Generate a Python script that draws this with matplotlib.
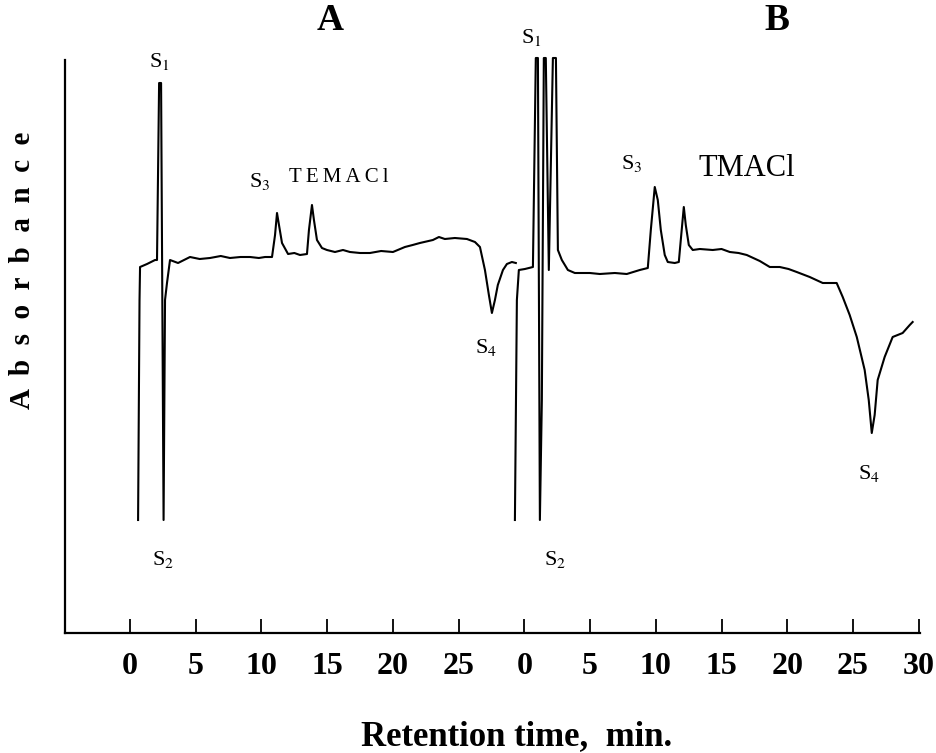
import matplotlib
matplotlib.use("Agg")
import matplotlib.pyplot as plt
import numpy as np

plt.rcParams['font.family'] = ['Liberation Serif', 'DejaVu Serif']
plt.rcParams['mathtext.fontset'] = 'stix'

# ---- data (retention time in min, absorbance in arbitrary units) ----
# Chromatogram A (TEMACl)
time_a = [0.61, 0.72, 0.76, 1.29, 1.90, 2.05, 2.21, 2.36, 2.55, 2.66, 2.81, 3.04,
          3.65, 4.56, 5.30, 6.08, 6.90, 7.60, 8.40, 9.13, 9.80, 10.27, 10.80, 11.03,
          11.18, 11.33, 11.56, 12.02, 12.50, 12.93, 13.46, 13.61, 13.84, 13.99, 14.22,
          14.60, 14.98, 15.59, 16.20, 16.73, 17.50, 18.25, 19.10, 20.00, 20.91, 21.50,
          22.05, 23.04, 23.50, 23.95, 24.71, 25.63, 26.24, 26.62, 27.00, 27.30, 27.53,
          27.76, 27.98, 28.37, 28.67, 29.05, 29.35]
abs_a = [1.13, 3.33, 3.66, 3.69, 3.73, 3.73, 5.50, 5.50, 1.13, 3.33, 3.50, 3.73,
         3.70, 3.76, 3.74, 3.75, 3.77, 3.75, 3.76, 3.76, 3.75, 3.76, 3.76, 3.98,
         4.20, 4.08, 3.90, 3.79, 3.80, 3.78, 3.79, 4.03, 4.28, 4.13, 3.93,
         3.85, 3.83, 3.81, 3.83, 3.81, 3.80, 3.80, 3.82, 3.81, 3.86, 3.88,
         3.90, 3.93, 3.96, 3.94, 3.95, 3.94, 3.91, 3.86, 3.63, 3.38, 3.20,
         3.33, 3.48, 3.63, 3.69, 3.71, 3.70]

# Chromatogram B (TMACl)
time_b = [-0.72, -0.57, -0.42, 0.04, 0.65, 0.87, 1.03, 1.18, 1.33, 1.48, 1.63, 1.86,
          2.17, 2.40, 2.55, 2.85, 3.31, 3.84, 4.98, 5.74, 6.88, 7.79, 8.78, 9.39,
          9.62, 9.92, 10.15, 10.38, 10.68, 10.91, 11.44, 11.75, 11.90, 12.13, 12.28,
          12.51, 12.81, 13.35, 14.33, 15.00, 15.63, 16.30, 16.92, 17.91, 18.67, 19.43,
          20.10, 20.72, 21.71, 22.70, 23.76, 24.22, 24.75, 25.29, 25.89, 26.20, 26.43,
          26.65, 26.88, 27.41, 28.02, 28.78, 29.32, 29.54]
abs_b = [1.13, 3.33, 3.63, 3.64, 3.66, 5.75, 5.75, 1.13, 2.33, 5.75, 5.75, 3.63,
         5.75, 5.75, 3.83, 3.73, 3.63, 3.60, 3.60, 3.59, 3.60, 3.59, 3.63, 3.65,
         4.03, 4.46, 4.33, 4.03, 3.78, 3.71, 3.70, 3.71, 3.93, 4.26, 4.08,
         3.88, 3.83, 3.84, 3.83, 3.84, 3.81, 3.80, 3.78, 3.72, 3.66, 3.66,
         3.64, 3.61, 3.56, 3.50, 3.50, 3.36, 3.18, 2.96, 2.63, 2.33, 2.00,
         2.18, 2.53, 2.76, 2.96, 3.00, 3.08, 3.11]

tick_values_a = [0, 5, 10, 15, 20, 25]
tick_values_b = [0, 5, 10, 15, 20, 25, 30]
offset_b = 30  # panel B is drawn after panel A on the same time axis

# ---- figure ----
fig = plt.figure(figsize=(9.36, 7.53), dpi=100)
ax = fig.add_axes([65 / 936, (753 - 633) / 753, 855 / 936, (633 - 60) / 753])

ax.plot(time_a, abs_a, color='black', lw=1.5, clip_on=False,
        solid_joinstyle='round')
ax.plot(np.array(time_b) + offset_b, abs_b, color='black', lw=1.5, clip_on=False,
        solid_joinstyle='round')

ax.set_xlim(-4.95, 60.1)
ax.set_ylim(0, 5.73)

ticks = tick_values_a + [t + offset_b for t in tick_values_b]
labels = [str(t) for t in tick_values_a] + [str(t) for t in tick_values_b]
ax.set_xticks(ticks)
ax.set_xticklabels(labels, fontsize=23, fontweight='bold')
ax.tick_params(axis='x', direction='in', length=10, width=1.3, pad=14)
ax.set_yticks([])

for s in ['top', 'right']:
    ax.spines[s].set_visible(False)
for s in ['left', 'bottom']:
    ax.spines[s].set_linewidth(1.6)

fig.text(517 / 936, 1 - 737 / 753, 'Retention time,  min.', fontsize=25,
         fontweight='bold', ha='center', va='center')
fig.text(23 / 936, 1 - 270 / 753, 'A  b  s  o  r  b  a  n  c  e', rotation=90,
         fontsize=21, fontweight='bold', ha='center', va='center')

# panel titles
fig.text(330 / 936, 1 - 20 / 753, 'A', fontsize=27, fontweight='bold', ha='center', va='center')
fig.text(777 / 936, 1 - 20 / 753, 'B', fontsize=27, fontweight='bold', ha='center', va='center')

# peak labels (positions in axis units)
peak_labels = [
    (r'S$_1$', 2.2, 5.71, 16),
    (r'S$_2$', 2.5, 0.73, 16),
    (r'S$_3$', 9.9, 4.51, 16),
    (r'S$_4$', 27.1, 2.86, 16),
    (r'S$_1$', 30.5, 5.95, 16),
    (r'S$_2$', 32.3, 0.73, 16),
    (r'S$_3$', 38.2, 4.70, 16),
    (r'S$_4$', 56.2, 1.60, 16),
]
for txt, x, y, fs in peak_labels:
    ax.text(x, y, txt, fontsize=fs, ha='center', va='center', clip_on=False)

ax.text(15.9, 4.55, '\u2009'.join('TEMACl'), fontsize=15, ha='center',
        va='center', clip_on=False)
ax.text(46.9, 4.65, 'TMACl', fontsize=22, ha='center', va='center', clip_on=False)

fig.savefig('out.png', dpi=100)
